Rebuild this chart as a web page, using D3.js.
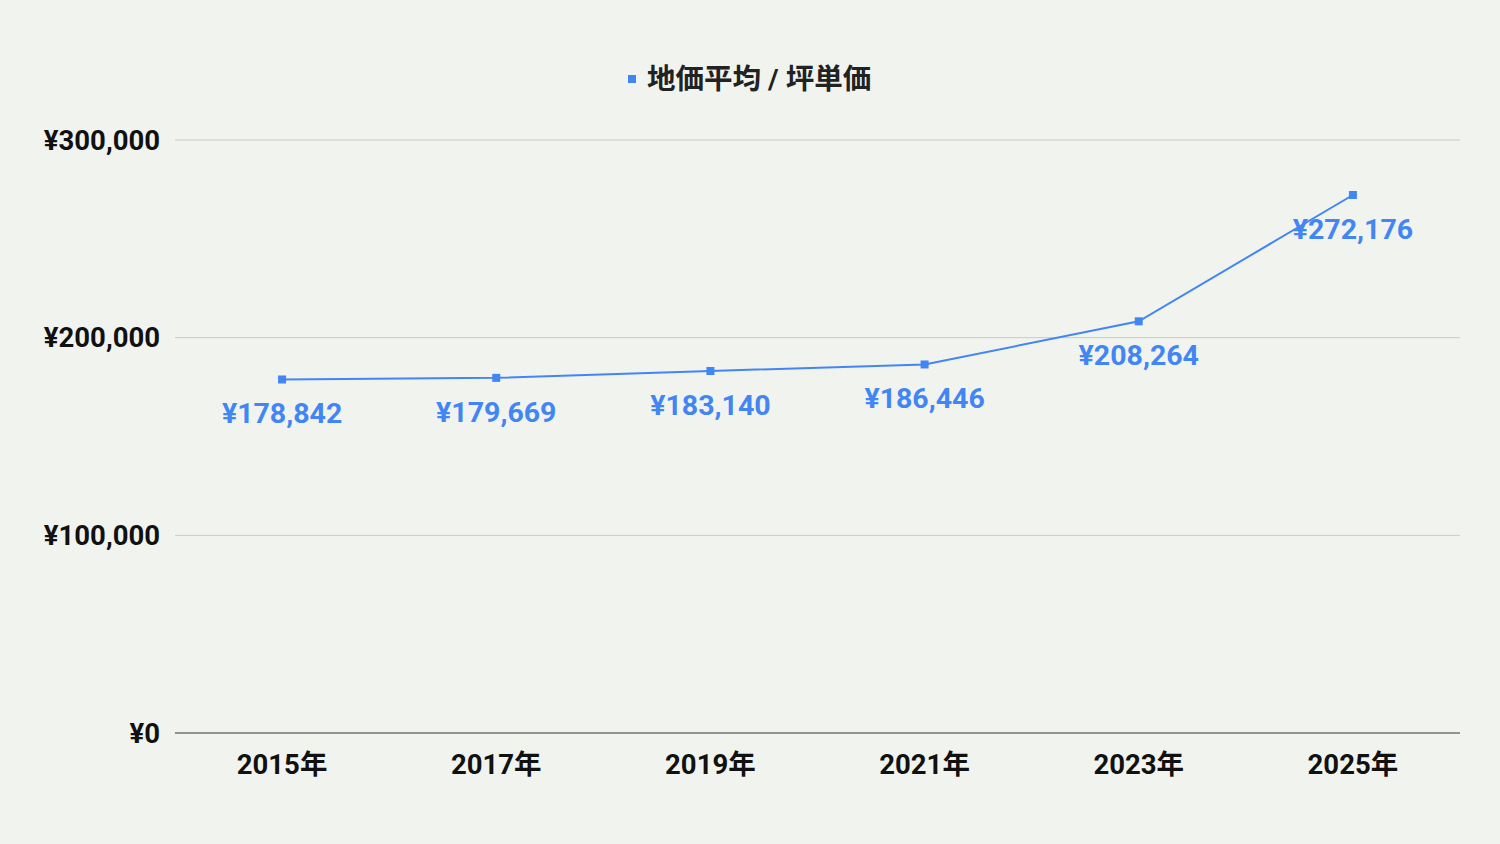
<!DOCTYPE html><html><head><meta charset="utf-8"><script src="https://cdn.jsdelivr.net/npm/d3@7"></script>
<style>body{margin:0;background:#f1f4ee}</style></head><body><svg id="c" width="1500" height="844"></svg>
<script>
const categories=["2015年","2017年","2019年","2021年","2023年","2025年"];
const values=[178842,179669,183140,186446,208264,272176];
const yTicks=[0,100000,200000,300000];
const seriesName="地価平均 / 坪単価";
const font="Roboto, 'Noto Sans CJK JP', sans-serif";
const svg=d3.select("#c");
svg.append("rect").attr("width",1500).attr("height",844).attr("fill","#f1f4ee");
const x=d3.scaleBand().domain(categories).range([175,1460]);
const y=d3.scaleLinear().domain([0,300000]).range([733,140]);
const fmt=v=>"¥"+d3.format(",")(v);
svg.selectAll(".g").data(yTicks).join("line").attr("x1",175).attr("x2",1460)
 .attr("y1",d=>y(d)).attr("y2",d=>y(d)).attr("stroke",d=>d===0?"#333":"#c8cac6").attr("stroke-width",1);
svg.selectAll(".yl").data(yTicks).join("text").attr("x",160).attr("y",d=>y(d)).attr("dy","0.35em")
 .attr("text-anchor","end").attr("font-family",font).attr("font-weight","bold").attr("font-size",27.5).attr("fill","#111").text(fmt);
svg.selectAll(".xl").data(categories).join("text").attr("x",d=>x(d)+x.bandwidth()/2).attr("y",764).attr("dy","0.35em")
 .attr("text-anchor","middle").attr("font-family",font).attr("font-weight","bold").attr("font-size",27.5).attr("fill","#111").text(d=>d);
const pts=categories.map((c,i)=>[x(c)+x.bandwidth()/2,y(values[i])]);
svg.append("path").attr("d",d3.line()(pts)).attr("fill","none").attr("stroke","#4285f4").attr("stroke-width",2);
svg.selectAll(".p").data(pts).join("rect").attr("x",d=>d[0]-4).attr("y",d=>d[1]-4).attr("width",8).attr("height",8).attr("fill","#4285f4");
svg.selectAll(".dl").data(pts).join("text").attr("x",d=>d[0]).attr("y",(d)=>d[1]+34).attr("dy","0.35em")
 .attr("text-anchor","middle").attr("font-family",font).attr("font-weight","bold").attr("font-size",28.5).attr("fill","#4285f4").text((d,i)=>fmt(values[i]));
svg.append("rect").attr("x",628).attr("y",75).attr("width",8).attr("height",8).attr("fill","#4285f4");
svg.append("text").attr("x",647).attr("y",79).attr("dy","0.35em").attr("font-family",font).attr("font-weight","bold").attr("font-size",28.5).attr("fill","#222").text(seriesName);
</script></body></html>
